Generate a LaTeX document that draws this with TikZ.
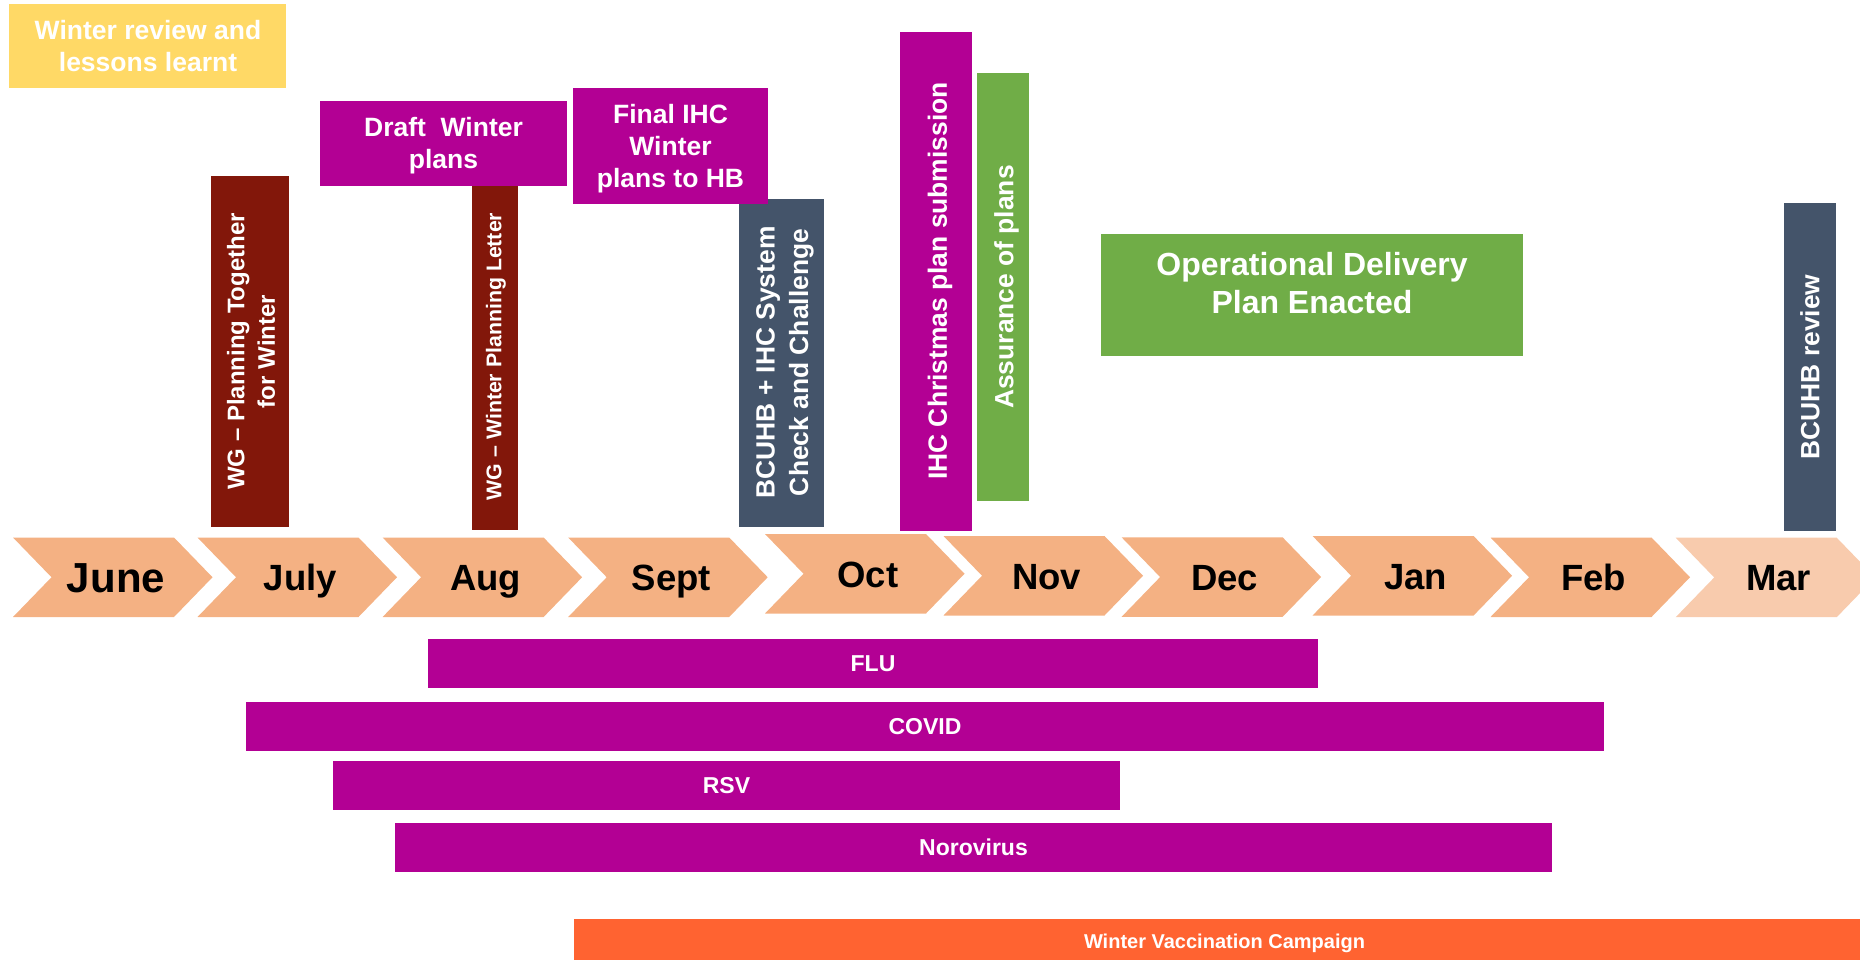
\documentclass[tikz,border=0pt]{standalone}
\usepackage{fontspec}
\setmainfont{Liberation Sans}
\usetikzlibrary{fit}

\definecolor{peach}{HTML}{F4B183}
\definecolor{peachlt}{HTML}{F8CBAD}
\definecolor{plum}{HTML}{B30094}
\definecolor{wgred}{HTML}{82170A}
\definecolor{slate}{HTML}{44546A}
\definecolor{leaf}{HTML}{70AD47}
\definecolor{gold}{HTML}{FFD966}
\definecolor{tang}{HTML}{FF6331}

\tikzset{
  panel/.style={inner sep=0pt, outer sep=0pt, draw=none, fill=#1},
  lbl/.style={inner sep=0pt, outer sep=0pt, text=white, align=center,
              font=\bfseries\fontsize{26.5}{32}\selectfont},
  vlbl/.style={lbl, rotate=90, font=\bfseries\fontsize{26.4}{33.5}\selectfont},
  mon/.style={inner sep=0pt, outer sep=0pt, text=black, anchor=base,
              font=\bfseries\fontsize{36.5}{40}\selectfont},
  barlbl/.style={inner sep=0pt, outer sep=0pt, text=white,
                 font=\bfseries\fontsize{23}{26}\selectfont},
}

\begin{document}
\begin{tikzpicture}[x=1pt, y=-1pt]
\useasboundingbox (0,0) rectangle (1860,960);
\clip (0,0) rectangle (1860,960);

% ---- month chevrons ----
\foreach \nm/\L/\T/\c in {June/13/537.5/peach, July/197.5/537.5/peach,
    Aug/382.6/537.5/peach, Sept/568.2/537.5/peach, Oct/765/534/peach,
    Nov/943.5/536/peach, Dec/1121.6/537.3/peach, Jan/1312.6/536/peach,
    Feb/1490.5/537.5/peach, Mar/1675.7/537.7/peachlt}{
  \fill[\c] (\L,\T) -- ++(161,0) -- ++(38.5,39.75) -- ++(-38.5,39.75)
            -- ++(-161,0) -- ++(38.5,-39.75) -- cycle;
}
\node[mon, font=\bfseries\fontsize{42}{46}\selectfont] (m-June) at (116,592) {June};
\foreach \nm/\L/\T in {July/197.5/537.5, Aug/382.6/537.5, Sept/568.2/537.5,
    Oct/765/534, Nov/943.5/536, Dec/1121.6/537.3, Jan/1312.6/536,
    Feb/1490.5/537.5, Mar/1675.7/537.7}{
  \node[mon] (m-\nm) at (\L+103,\T+53) {\nm};
}

% ---- planning milestones ----
\node[panel=gold, fit={(9,4) (286,88)}] (review) {};
\node[lbl] (review-t) at (148,46.5) {Winter review and\\lessons learnt};

\node[panel=wgred, fit={(211,176) (289,527)}] (wgtog) {};
\node[vlbl, font=\bfseries\fontsize{24}{30.5}\selectfont] (wgtog-t) at (251,351.5)
  {WG – Planning Together\\for Winter};

\node[panel=wgred, fit={(472,183) (518,530)}] (wgletter) {};
\node[vlbl, font=\bfseries\fontsize{21.3}{26}\selectfont] (wgletter-t) at (496,356.5)
  {WG – Winter Planning Letter};

\node[panel=plum, fit={(320,101) (567,186)}] (draft) {};
\node[lbl] (draft-t) at (443.5,146) {Draft~ Winter\\plans};

\node[panel=slate, fit={(739,199) (824,527)}] (check) {};
\node[vlbl] (check-t) at (785,362.5) {BCUHB + IHC System\\Check and Challenge};

\node[panel=plum, fit={(573,88) (768,204.5)}] (final) {};
\node[lbl] (final-t) at (670.5,148.8) {Final IHC\\Winter\\plans to HB};

\node[panel=plum, fit={(900,32) (972,530.7)}] (xmas) {};
\node[vlbl] (xmas-t) at (940,281) {IHC Christmas plan submission};

\node[panel=leaf, fit={(977,73) (1029,501)}] (assure) {};
\node[vlbl] (assure-t) at (1006.5,287) {Assurance of plans};

\node[panel=leaf, fit={(1101,234) (1523,355.7)}] (oper) {};
\node[lbl, font=\bfseries\fontsize{32}{38}\selectfont] (oper-t) at (1312,283)
  {Operational Delivery\\Plan Enacted};

\node[panel=slate, fit={(1784,203) (1836,530.7)}] (hbreview) {};
\node[vlbl] (hbreview-t) at (hbreview.center) {BCUHB review};

% ---- seasonal pressures ----
\node[panel=plum, fit={(428,639) (1318,687.7)}] (flu) {};
\node[barlbl] (flu-t) at (flu.center) {FLU};

\node[panel=plum, fit={(246,702) (1604,750.7)}] (covid) {};
\node[barlbl] (covid-t) at (covid.center) {COVID};

\node[panel=plum, fit={(333,761) (1120,810)}] (rsv) {};
\node[barlbl] (rsv-t) at (rsv.center) {RSV};

\node[panel=plum, fit={(395,823) (1552,871.7)}] (noro) {};
\node[barlbl] (noro-t) at (noro.center) {Norovirus};

\node[panel=tang, fit={(574,919) (1860,960)}] (vacc) {};
\node[barlbl, anchor=base, font=\bfseries\fontsize{20}{24}\selectfont] (vacc-t)
  at (1224.5,948) {Winter Vaccination Campaign};
\end{tikzpicture}
\end{document}
